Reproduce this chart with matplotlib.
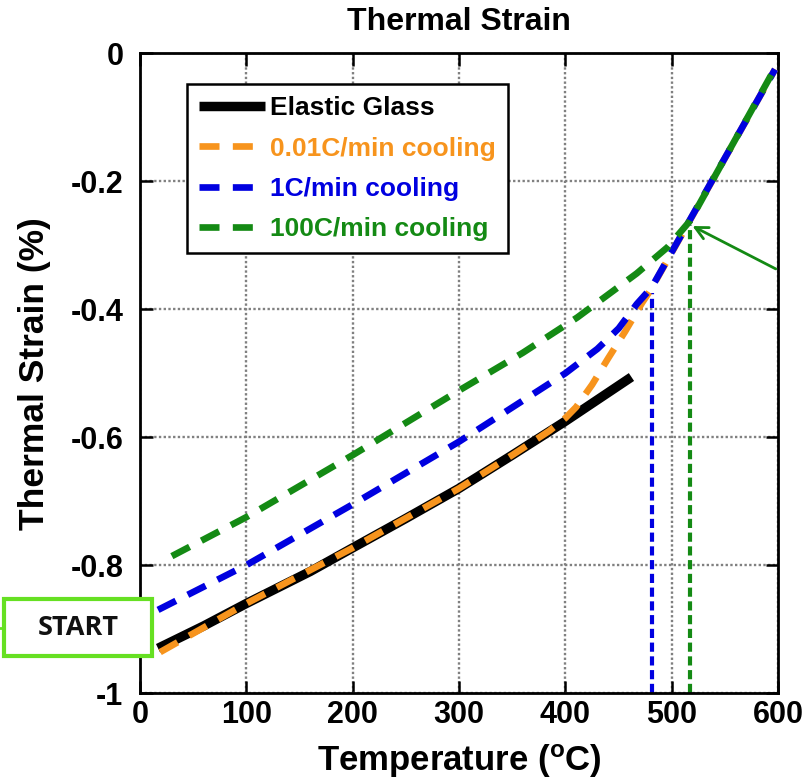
import matplotlib
matplotlib.use("Agg")
import matplotlib.pyplot as plt
from matplotlib.patches import Rectangle
from matplotlib.lines import Line2D

plt.rcParams['font.family'] = ['Liberation Sans', 'DejaVu Sans']

# ---- data ----
glass_T = [17, 60, 100, 160, 200, 250, 300, 350, 400, 462]
glass_s = [-0.93, -0.895, -0.86, -0.81, -0.773, -0.727, -0.68, -0.628, -0.575, -0.506]

slow_T = [19, 100, 200, 300, 350, 385, 400, 410, 425, 440, 456, 472, 480, 597]
slow_s = [-0.936, -0.86, -0.773, -0.68, -0.628, -0.59, -0.57, -0.553, -0.518, -0.477, -0.435, -0.39, -0.37, -0.025]

mid_T = [17, 100, 200, 300, 400, 430, 450, 467, 481, 597]
mid_s = [-0.87, -0.80, -0.705, -0.607, -0.50, -0.462, -0.43, -0.392, -0.366, -0.025]

fast_T = [30, 100, 200, 300, 360, 411, 467, 496, 517, 597]
fast_s = [-0.786, -0.725, -0.628, -0.527, -0.468, -0.413, -0.344, -0.303, -0.262, -0.023]

labels = ["Elastic Glass", "0.01C/min cooling", "1C/min cooling", "100C/min cooling"]
colors = ["#000000", "#f7941d", "#0000e0", "#148a14"]

tg_mid = (481, -0.375)
tg_fast = (517, -0.268)
arrow_tail = (600, -0.339)

xticks = [0, 100, 200, 300, 400, 500, 600]
yticks = [-1, -0.8, -0.6, -0.4, -0.2, 0]
ytick_labels = ["-1", "-0.8", "-0.6", "-0.4", "-0.2", "0"]

# ---- figure ----
fig = plt.figure(figsize=(8.09, 7.84), dpi=100)
ax = fig.add_axes([0.173, 0.116, 0.789, 0.816])

dash = (3.0, 2.0)
ax.plot(glass_T, glass_s, color=colors[0], lw=6.8, solid_capstyle="butt", label=labels[0], zorder=3)
ax.plot(slow_T, slow_s, color=colors[1], lw=4.8, dashes=dash, label=labels[1], zorder=4)
ax.plot(mid_T, mid_s, color=colors[2], lw=4.8, dashes=dash, label=labels[2], zorder=5)
ax.plot(fast_T, fast_s, color=colors[3], lw=4.8, dashes=dash, label=labels[3], zorder=6)

ax.plot([tg_mid[0], tg_mid[0]], [-1, tg_mid[1]], color=colors[2], lw=3, dashes=(2.2, 1.1), zorder=2)
ax.plot([tg_fast[0], tg_fast[0]], [-1, tg_fast[1]], color=colors[3], lw=3, dashes=(2.2, 1.1), zorder=2)

ax.annotate("", xy=tg_fast, xytext=arrow_tail,
            arrowprops=dict(arrowstyle="->,head_length=0.9,head_width=0.45", color=colors[3], lw=2),
            annotation_clip=False, zorder=7)

ax.set_xlim(0, 600)
ax.set_ylim(-1, 0)
ax.set_xticks(xticks)
ax.set_yticks(yticks)
ax.set_yticklabels(ytick_labels)
ax.grid(True, color="#808080", linestyle=(0, (1, 1)), lw=1.7)
ax.tick_params(direction="in", length=9, width=1.8, top=True, right=True, labelsize=22)
ax.tick_params(axis="x", pad=5)
ax.tick_params(axis="y", pad=12)
for lab in ax.get_xticklabels() + ax.get_yticklabels():
    lab.set_fontweight("bold")
for sp in ax.spines.values():
    sp.set_linewidth(2)

ax.set_title("Thermal Strain", fontsize=23, fontweight="bold", pad=17)
ax.set_xlabel("Temperature ($\\mathregular{^{o}}$C)", fontsize=25, fontweight="bold", labelpad=9)
ax.set_ylabel("Thermal Strain (%)", fontsize=25.5, fontweight="bold", labelpad=14)

leg = ax.legend(loc="upper left", bbox_to_anchor=(0.0737, 0.9516), borderaxespad=0,
                fontsize=19, handlelength=2.5, handletextpad=0.2, labelspacing=0.62,
                fancybox=False, framealpha=1, edgecolor="black", borderpad=0.45)
leg.get_frame().set_linewidth(1.8)
for txt, c in zip(leg.get_texts(), colors):
    txt.set_color(c)
    txt.set_fontweight("bold")

# START box (figure pixel coordinates)
W, H = 809, 784
fig.add_artist(Rectangle((4 / W, 1 - 656 / H), 148 / W, 57 / H, transform=fig.transFigure,
                         facecolor="white", edgecolor="#66e022", lw=3, zorder=10))
fig.add_artist(Line2D([0, 4 / W], [1 - 628 / H, 1 - 628 / H], transform=fig.transFigure,
                      color="#66e022", lw=2, zorder=10))
fig.text(78 / W, 1 - 628 / H, "START", ha="center", va="center", fontsize=19.5,
         family="Open Sans", fontweight="bold", color="#111111", zorder=11)

fig.savefig("out.png", dpi=100)
